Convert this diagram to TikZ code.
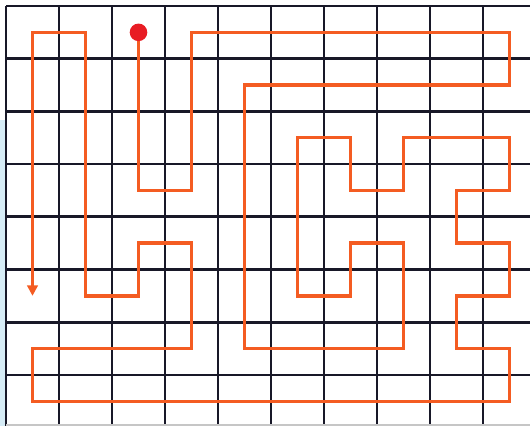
\documentclass[tikz,border=0pt]{standalone}
\usetikzlibrary{arrows.meta}
\definecolor{routeorange}{RGB}{244,92,34}
\definecolor{gridink}{RGB}{24,24,40}
\definecolor{startred}{RGB}{232,28,36}
\definecolor{edgeblue}{RGB}{214,236,246}
\tikzset{
  gridline/.style ={draw=gridink, line width=1.5pt},
  route/.style    ={draw=routeorange, line width=1.9pt, line join=miter},
  routeend/.style ={-{Triangle[length=6pt, width=6pt]}},
  startdot/.style ={circle, fill=startred, inner sep=0pt, minimum size=10pt},
}

\begin{document}
\begin{tikzpicture}[x=0.02cm, y=-0.02cm]
  \useasboundingbox (0,0) rectangle (530,426);
  \fill[edgeblue] (0,120) rectangle (6,426);

  % ---- cell centres ----
  \foreach \i in {0,...,9}
    \foreach \j in {0,...,7}
      \coordinate (c\i-\j) at ({6+53*(\i+0.5)}, {6+52.7*(\j+0.5)});

  % ---- grid ----
  \foreach \i in {0,...,9}
    \draw[gridline] ({6+53*\i},6) -- ({6+53*\i},426);
  \foreach \j in {0,...,7}
    \draw[gridline] (6,{6+52.7*\j}) -- (530,{6+52.7*\j});
  \draw[gray!45, line width=0.8pt] (6,425) -- (530,425);

  % ---- route ----
  \draw[route, routeend] (c2-0) -- (c2-3) -- (c3-3) -- (c3-0) -- (c9-0)
    -- (c9-1) -- (c4-1) -- (c4-6) -- (c7-6) -- (c7-4) -- (c6-4) -- (c6-5)
    -- (c5-5) -- (c5-2) -- (c6-2) -- (c6-3) -- (c7-3) -- (c7-2) -- (c9-2)
    -- (c9-3) -- (c8-3) -- (c8-4) -- (c9-4) -- (c9-5) -- (c8-5) -- (c8-6)
    -- (c9-6) -- (c9-7) -- (c0-7) -- (c0-6) -- (c3-6) -- (c3-4) -- (c2-4)
    -- (c2-5) -- (c1-5) -- (c1-0) -- (c0-0) -- (c0-5);
  \node[startdot] (start) at (c2-0) {};
\end{tikzpicture}
\end{document}
